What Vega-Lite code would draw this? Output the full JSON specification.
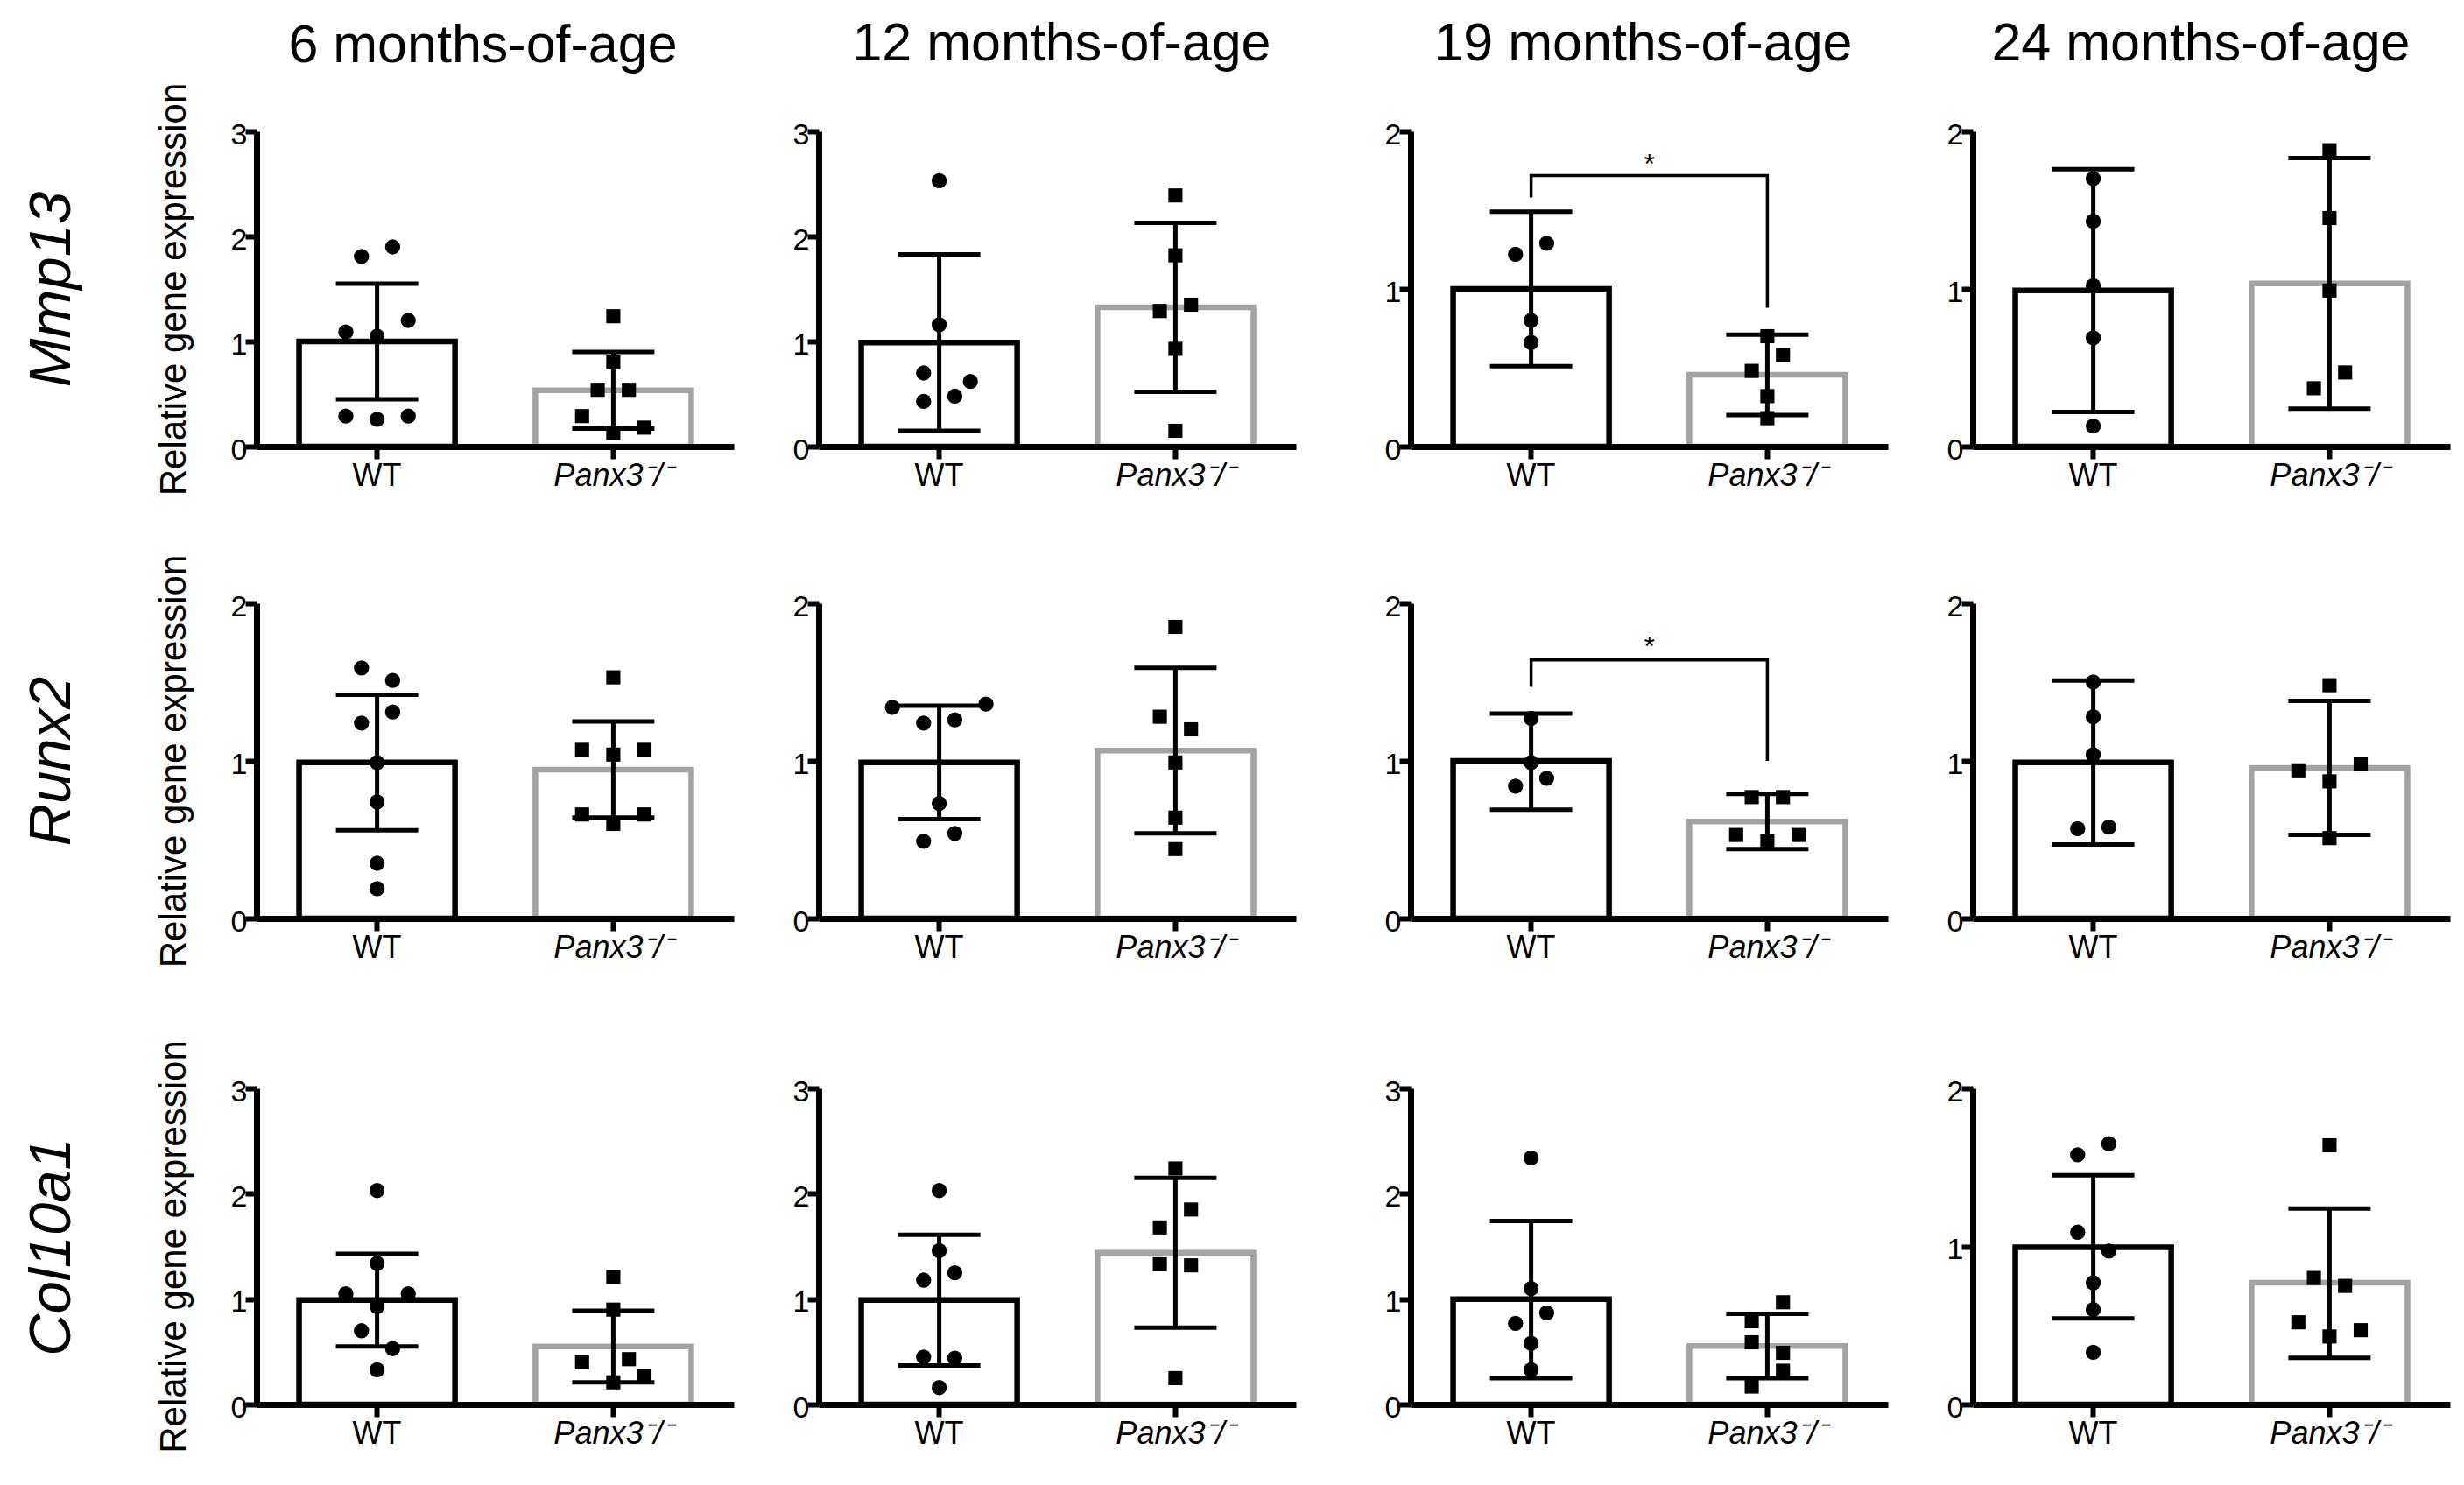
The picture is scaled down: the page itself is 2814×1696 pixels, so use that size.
{
"$schema":"https://vega.github.io/schema/vega-lite/v6.json",
"background":"white",
"padding":{"left":25,"top":20,"right":10,"bottom":10},
"datasets":{
"points":[
{"panel":"Mmp13 6","genotype":"WT","value":1.81,"slot":-1},{"panel":"Mmp13 6","genotype":"WT","value":1.90,"slot":1},{"panel":"Mmp13 6","genotype":"WT","value":1.20,"slot":2},{"panel":"Mmp13 6","genotype":"WT","value":1.09,"slot":-2},{"panel":"Mmp13 6","genotype":"WT","value":1.05,"slot":0},{"panel":"Mmp13 6","genotype":"WT","value":0.29,"slot":-2},{"panel":"Mmp13 6","genotype":"WT","value":0.26,"slot":0},{"panel":"Mmp13 6","genotype":"WT","value":0.29,"slot":2},
{"panel":"Mmp13 6","genotype":"Panx3-/-","value":1.24,"slot":0},{"panel":"Mmp13 6","genotype":"Panx3-/-","value":0.80,"slot":0},{"panel":"Mmp13 6","genotype":"Panx3-/-","value":0.54,"slot":-1},{"panel":"Mmp13 6","genotype":"Panx3-/-","value":0.54,"slot":1},{"panel":"Mmp13 6","genotype":"Panx3-/-","value":0.29,"slot":-2},{"panel":"Mmp13 6","genotype":"Panx3-/-","value":0.13,"slot":0},{"panel":"Mmp13 6","genotype":"Panx3-/-","value":0.18,"slot":2},
{"panel":"Mmp13 12","genotype":"WT","value":2.53,"slot":0},{"panel":"Mmp13 12","genotype":"WT","value":1.16,"slot":0},{"panel":"Mmp13 12","genotype":"WT","value":0.70,"slot":-1},{"panel":"Mmp13 12","genotype":"WT","value":0.62,"slot":2},{"panel":"Mmp13 12","genotype":"WT","value":0.43,"slot":-1},{"panel":"Mmp13 12","genotype":"WT","value":0.48,"slot":1},
{"panel":"Mmp13 12","genotype":"Panx3-/-","value":2.39,"slot":0},{"panel":"Mmp13 12","genotype":"Panx3-/-","value":1.82,"slot":0},{"panel":"Mmp13 12","genotype":"Panx3-/-","value":1.35,"slot":1},{"panel":"Mmp13 12","genotype":"Panx3-/-","value":1.29,"slot":-1},{"panel":"Mmp13 12","genotype":"Panx3-/-","value":0.93,"slot":0},{"panel":"Mmp13 12","genotype":"Panx3-/-","value":0.15,"slot":0},
{"panel":"Mmp13 19","genotype":"WT","value":1.29,"slot":1},{"panel":"Mmp13 19","genotype":"WT","value":1.22,"slot":-1},{"panel":"Mmp13 19","genotype":"WT","value":0.80,"slot":0},{"panel":"Mmp13 19","genotype":"WT","value":0.66,"slot":0},
{"panel":"Mmp13 19","genotype":"Panx3-/-","value":0.70,"slot":0},{"panel":"Mmp13 19","genotype":"Panx3-/-","value":0.58,"slot":1},{"panel":"Mmp13 19","genotype":"Panx3-/-","value":0.48,"slot":-1},{"panel":"Mmp13 19","genotype":"Panx3-/-","value":0.32,"slot":0},{"panel":"Mmp13 19","genotype":"Panx3-/-","value":0.18,"slot":0},
{"panel":"Mmp13 24","genotype":"WT","value":1.70,"slot":0},{"panel":"Mmp13 24","genotype":"WT","value":1.43,"slot":0},{"panel":"Mmp13 24","genotype":"WT","value":1.02,"slot":0},{"panel":"Mmp13 24","genotype":"WT","value":0.69,"slot":0},{"panel":"Mmp13 24","genotype":"WT","value":0.13,"slot":0},
{"panel":"Mmp13 24","genotype":"Panx3-/-","value":1.88,"slot":0},{"panel":"Mmp13 24","genotype":"Panx3-/-","value":1.45,"slot":0},{"panel":"Mmp13 24","genotype":"Panx3-/-","value":0.99,"slot":0},{"panel":"Mmp13 24","genotype":"Panx3-/-","value":0.47,"slot":1},{"panel":"Mmp13 24","genotype":"Panx3-/-","value":0.37,"slot":-1},
{"panel":"Runx2 6","genotype":"WT","value":1.59,"slot":-1},{"panel":"Runx2 6","genotype":"WT","value":1.51,"slot":1},{"panel":"Runx2 6","genotype":"WT","value":1.31,"slot":1},{"panel":"Runx2 6","genotype":"WT","value":1.24,"slot":-1},{"panel":"Runx2 6","genotype":"WT","value":0.99,"slot":0},{"panel":"Runx2 6","genotype":"WT","value":0.74,"slot":0},{"panel":"Runx2 6","genotype":"WT","value":0.35,"slot":0},{"panel":"Runx2 6","genotype":"WT","value":0.19,"slot":0},
{"panel":"Runx2 6","genotype":"Panx3-/-","value":1.53,"slot":0},{"panel":"Runx2 6","genotype":"Panx3-/-","value":1.07,"slot":-2},{"panel":"Runx2 6","genotype":"Panx3-/-","value":1.04,"slot":0},{"panel":"Runx2 6","genotype":"Panx3-/-","value":1.07,"slot":2},{"panel":"Runx2 6","genotype":"Panx3-/-","value":0.66,"slot":-2},{"panel":"Runx2 6","genotype":"Panx3-/-","value":0.66,"slot":2},{"panel":"Runx2 6","genotype":"Panx3-/-","value":0.60,"slot":0},
{"panel":"Runx2 12","genotype":"WT","value":1.34,"slot":-3},{"panel":"Runx2 12","genotype":"WT","value":1.36,"slot":3},{"panel":"Runx2 12","genotype":"WT","value":1.24,"slot":-1},{"panel":"Runx2 12","genotype":"WT","value":1.26,"slot":1},{"panel":"Runx2 12","genotype":"WT","value":0.73,"slot":0},{"panel":"Runx2 12","genotype":"WT","value":0.54,"slot":1},{"panel":"Runx2 12","genotype":"WT","value":0.49,"slot":-1},
{"panel":"Runx2 12","genotype":"Panx3-/-","value":1.85,"slot":0},{"panel":"Runx2 12","genotype":"Panx3-/-","value":1.28,"slot":-1},{"panel":"Runx2 12","genotype":"Panx3-/-","value":1.20,"slot":1},{"panel":"Runx2 12","genotype":"Panx3-/-","value":0.99,"slot":0},{"panel":"Runx2 12","genotype":"Panx3-/-","value":0.64,"slot":0},{"panel":"Runx2 12","genotype":"Panx3-/-","value":0.44,"slot":0},
{"panel":"Runx2 19","genotype":"WT","value":1.27,"slot":0},{"panel":"Runx2 19","genotype":"WT","value":0.99,"slot":0},{"panel":"Runx2 19","genotype":"WT","value":0.89,"slot":1},{"panel":"Runx2 19","genotype":"WT","value":0.84,"slot":-1},
{"panel":"Runx2 19","genotype":"Panx3-/-","value":0.77,"slot":-1},{"panel":"Runx2 19","genotype":"Panx3-/-","value":0.77,"slot":1},{"panel":"Runx2 19","genotype":"Panx3-/-","value":0.53,"slot":-2},{"panel":"Runx2 19","genotype":"Panx3-/-","value":0.53,"slot":2},{"panel":"Runx2 19","genotype":"Panx3-/-","value":0.49,"slot":0},
{"panel":"Runx2 24","genotype":"WT","value":1.50,"slot":0},{"panel":"Runx2 24","genotype":"WT","value":1.28,"slot":0},{"panel":"Runx2 24","genotype":"WT","value":1.04,"slot":0},{"panel":"Runx2 24","genotype":"WT","value":0.57,"slot":-1},{"panel":"Runx2 24","genotype":"WT","value":0.58,"slot":1},
{"panel":"Runx2 24","genotype":"Panx3-/-","value":1.48,"slot":0},{"panel":"Runx2 24","genotype":"Panx3-/-","value":0.94,"slot":-2},{"panel":"Runx2 24","genotype":"Panx3-/-","value":0.98,"slot":2},{"panel":"Runx2 24","genotype":"Panx3-/-","value":0.87,"slot":0},{"panel":"Runx2 24","genotype":"Panx3-/-","value":0.51,"slot":0},
{"panel":"Col10a1 6","genotype":"WT","value":2.03,"slot":0},{"panel":"Col10a1 6","genotype":"WT","value":1.34,"slot":0},{"panel":"Col10a1 6","genotype":"WT","value":1.05,"slot":-2},{"panel":"Col10a1 6","genotype":"WT","value":1.05,"slot":2},{"panel":"Col10a1 6","genotype":"WT","value":0.93,"slot":0},{"panel":"Col10a1 6","genotype":"WT","value":0.70,"slot":-1},{"panel":"Col10a1 6","genotype":"WT","value":0.53,"slot":1},{"panel":"Col10a1 6","genotype":"WT","value":0.33,"slot":0},
{"panel":"Col10a1 6","genotype":"Panx3-/-","value":1.21,"slot":0},{"panel":"Col10a1 6","genotype":"Panx3-/-","value":0.90,"slot":0},{"panel":"Col10a1 6","genotype":"Panx3-/-","value":0.40,"slot":-2},{"panel":"Col10a1 6","genotype":"Panx3-/-","value":0.43,"slot":1},{"panel":"Col10a1 6","genotype":"Panx3-/-","value":0.27,"slot":2},{"panel":"Col10a1 6","genotype":"Panx3-/-","value":0.21,"slot":0},
{"panel":"Col10a1 12","genotype":"WT","value":2.03,"slot":0},{"panel":"Col10a1 12","genotype":"WT","value":1.46,"slot":0},{"panel":"Col10a1 12","genotype":"WT","value":1.25,"slot":1},{"panel":"Col10a1 12","genotype":"WT","value":1.18,"slot":-1},{"panel":"Col10a1 12","genotype":"WT","value":0.45,"slot":-1},{"panel":"Col10a1 12","genotype":"WT","value":0.44,"slot":1},{"panel":"Col10a1 12","genotype":"WT","value":0.16,"slot":0},
{"panel":"Col10a1 12","genotype":"Panx3-/-","value":2.24,"slot":0},{"panel":"Col10a1 12","genotype":"Panx3-/-","value":1.85,"slot":1},{"panel":"Col10a1 12","genotype":"Panx3-/-","value":1.68,"slot":-1},{"panel":"Col10a1 12","genotype":"Panx3-/-","value":1.33,"slot":-1},{"panel":"Col10a1 12","genotype":"Panx3-/-","value":1.32,"slot":1},{"panel":"Col10a1 12","genotype":"Panx3-/-","value":0.25,"slot":0},
{"panel":"Col10a1 19","genotype":"WT","value":2.34,"slot":0},{"panel":"Col10a1 19","genotype":"WT","value":1.10,"slot":0},{"panel":"Col10a1 19","genotype":"WT","value":0.87,"slot":1},{"panel":"Col10a1 19","genotype":"WT","value":0.77,"slot":-1},{"panel":"Col10a1 19","genotype":"WT","value":0.58,"slot":0},{"panel":"Col10a1 19","genotype":"WT","value":0.33,"slot":0},
{"panel":"Col10a1 19","genotype":"Panx3-/-","value":0.97,"slot":1},{"panel":"Col10a1 19","genotype":"Panx3-/-","value":0.79,"slot":-1},{"panel":"Col10a1 19","genotype":"Panx3-/-","value":0.59,"slot":-1},{"panel":"Col10a1 19","genotype":"Panx3-/-","value":0.49,"slot":1},{"panel":"Col10a1 19","genotype":"Panx3-/-","value":0.32,"slot":1},{"panel":"Col10a1 19","genotype":"Panx3-/-","value":0.17,"slot":-1},
{"panel":"Col10a1 24","genotype":"WT","value":1.65,"slot":1},{"panel":"Col10a1 24","genotype":"WT","value":1.58,"slot":-1},{"panel":"Col10a1 24","genotype":"WT","value":1.09,"slot":-1},{"panel":"Col10a1 24","genotype":"WT","value":0.97,"slot":1},{"panel":"Col10a1 24","genotype":"WT","value":0.77,"slot":0},{"panel":"Col10a1 24","genotype":"WT","value":0.60,"slot":0},{"panel":"Col10a1 24","genotype":"WT","value":0.33,"slot":0},
{"panel":"Col10a1 24","genotype":"Panx3-/-","value":1.64,"slot":0},{"panel":"Col10a1 24","genotype":"Panx3-/-","value":0.80,"slot":-1},{"panel":"Col10a1 24","genotype":"Panx3-/-","value":0.75,"slot":1},{"panel":"Col10a1 24","genotype":"Panx3-/-","value":0.52,"slot":-2},{"panel":"Col10a1 24","genotype":"Panx3-/-","value":0.47,"slot":2},{"panel":"Col10a1 24","genotype":"Panx3-/-","value":0.43,"slot":0}
],
"summary":[
{"panel":"Mmp13 6","genotype":"WT","mean":1.0,"lo":0.45,"hi":1.55},{"panel":"Mmp13 6","genotype":"Panx3-/-","mean":0.535,"lo":0.17,"hi":0.90},
{"panel":"Mmp13 12","genotype":"WT","mean":0.99,"lo":0.15,"hi":1.83},{"panel":"Mmp13 12","genotype":"Panx3-/-","mean":1.325,"lo":0.52,"hi":2.13},
{"panel":"Mmp13 19","genotype":"WT","mean":1.0,"lo":0.51,"hi":1.49},{"panel":"Mmp13 19","genotype":"Panx3-/-","mean":0.455,"lo":0.20,"hi":0.71},
{"panel":"Mmp13 24","genotype":"WT","mean":0.99,"lo":0.22,"hi":1.76},{"panel":"Mmp13 24","genotype":"Panx3-/-","mean":1.035,"lo":0.24,"hi":1.83},
{"panel":"Runx2 6","genotype":"WT","mean":0.99,"lo":0.56,"hi":1.42},{"panel":"Runx2 6","genotype":"Panx3-/-","mean":0.945,"lo":0.64,"hi":1.25},
{"panel":"Runx2 12","genotype":"WT","mean":0.99,"lo":0.63,"hi":1.35},{"panel":"Runx2 12","genotype":"Panx3-/-","mean":1.065,"lo":0.54,"hi":1.59},
{"panel":"Runx2 19","genotype":"WT","mean":1.0,"lo":0.69,"hi":1.30},{"panel":"Runx2 19","genotype":"Panx3-/-","mean":0.615,"lo":0.44,"hi":0.79},
{"panel":"Runx2 24","genotype":"WT","mean":0.99,"lo":0.47,"hi":1.51},{"panel":"Runx2 24","genotype":"Panx3-/-","mean":0.955,"lo":0.53,"hi":1.38},
{"panel":"Col10a1 6","genotype":"WT","mean":0.99,"lo":0.55,"hi":1.43},{"panel":"Col10a1 6","genotype":"Panx3-/-","mean":0.55,"lo":0.21,"hi":0.89},
{"panel":"Col10a1 12","genotype":"WT","mean":0.99,"lo":0.37,"hi":1.61},{"panel":"Col10a1 12","genotype":"Panx3-/-","mean":1.44,"lo":0.73,"hi":2.15},
{"panel":"Col10a1 19","genotype":"WT","mean":1.0,"lo":0.25,"hi":1.74},{"panel":"Col10a1 19","genotype":"Panx3-/-","mean":0.555,"lo":0.25,"hi":0.86},
{"panel":"Col10a1 24","genotype":"WT","mean":0.995,"lo":0.545,"hi":1.45},{"panel":"Col10a1 24","genotype":"Panx3-/-","mean":0.77,"lo":0.295,"hi":1.24}
],
"bracket":[
{"panel":"Mmp13 19","genotype":"WT","value":1.58,"k":1},{"panel":"Mmp13 19","genotype":"WT","value":1.72,"k":2},{"panel":"Mmp13 19","genotype":"Panx3-/-","value":1.72,"k":3},{"panel":"Mmp13 19","genotype":"Panx3-/-","value":0.88,"k":4},
{"panel":"Runx2 19","genotype":"WT","value":1.47,"k":1},{"panel":"Runx2 19","genotype":"WT","value":1.64,"k":2},{"panel":"Runx2 19","genotype":"Panx3-/-","value":1.64,"k":3},{"panel":"Runx2 19","genotype":"Panx3-/-","value":1.0,"k":4}
],
"stars":[
{"panel":"Mmp13 19","genotype":"WT","value":1.79,"label":"*"},
{"panel":"Runx2 19","genotype":"WT","value":1.72,"label":"*"}
]
},
"config":{
"font":"Liberation Sans",
"view":{"stroke":null},
"axis":{"grid":false,"labelFont":"Liberation Sans","titleFont":"Liberation Sans","titleFontWeight":"normal","titleColor":"#000000","labelColor":"#000000"},
"title":{"fontSize":61,"fontWeight":"normal","color":"#000000","font":"Liberation Sans","anchor":"middle","frame":"group"}
},
"spacing":67,
"resolve":{"scale":{"x":"independent","y":"independent"}},
"vconcat":[
{"hconcat":[
{"width":545,"height":360,"title":{"text":"6 months-of-age","offset":10,"dx":-14},"resolve":{"axis":{"x":"independent","y":"independent"},"scale":{"xOffset":"independent"}},"layer":[
{"data":{"name":"summary"},"transform":[{"filter":"datum.panel == 'Mmp13 6'"}],"mark":{"type":"bar","fill":"white","strokeWidth":6.5},"encoding":{"x":{"field":"genotype","type":"nominal","scale":{"domain":["WT","Panx3-/-"],"paddingInner":0.34,"paddingOuter":0.18},"axis":{"title":null,"domain":true,"domainColor":"#000000","domainWidth":7,"ticks":true,"tickColor":"#000000","tickWidth":6,"tickSize":14,"labelFontSize":36,"labelColor":"#000000","labelPadding":2,"labelAngle":0,"zindex":1,"labelExpr":"datum.value == 'WT' ? 'WT' : 'Panx3⁻/⁻'","labelFontStyle":{"condition":{"test":"datum.value != 'WT'","value":"italic"},"value":"normal"}}},"y":{"field":"mean","type":"quantitative","scale":{"domain":[0,3],"nice":false},"axis":{"values":[0,1,2,3],"tickCount":10,"labelOverlap":false,"labelExpr":"'' + datum.value","title":"Relative gene expression","titleFontSize":42,"titlePadding":43,"domain":true,"domainColor":"#000000","domainWidth":7,"ticks":true,"tickColor":"#000000","tickWidth":6,"tickSize":13,"labelFontSize":34,"labelColor":"#000000","labelPadding":-2,"labelOffset":4,"zindex":1}},"stroke":{"field":"genotype","type":"nominal","scale":{"domain":["WT","Panx3-/-"],"range":["#000000","#a3a3a6"]},"legend":null}}},
{"data":{"name":"summary"},"transform":[{"filter":"datum.panel == 'Mmp13 6'"}],"mark":{"type":"rule","color":"#000000","strokeWidth":5},"encoding":{"x":{"field":"genotype","type":"nominal","axis":null},"y":{"field":"lo","type":"quantitative","axis":null},"y2":{"field":"hi"}}},
{"data":{"name":"summary"},"transform":[{"filter":"datum.panel == 'Mmp13 6'"}],"mark":{"type":"tick","color":"#000000","size":94,"thickness":5,"opacity":1},"encoding":{"x":{"field":"genotype","type":"nominal","axis":null},"y":{"field":"hi","type":"quantitative","axis":null}}},
{"data":{"name":"summary"},"transform":[{"filter":"datum.panel == 'Mmp13 6'"}],"mark":{"type":"tick","color":"#000000","size":94,"thickness":5,"opacity":1},"encoding":{"x":{"field":"genotype","type":"nominal","axis":null},"y":{"field":"lo","type":"quantitative","axis":null}}},
{"data":{"name":"points"},"transform":[{"filter":"datum.panel == 'Mmp13 6'"}],"mark":{"type":"point","filled":true,"color":"#000000","opacity":1},"encoding":{"x":{"field":"genotype","type":"nominal","axis":null},"xOffset":{"field":"slot","type":"ordinal","scale":{"domain":[-4,-3,-2,-1,0,1,2,3,4],"paddingInner":0,"paddingOuter":3.8}},"y":{"field":"value","type":"quantitative","axis":{"orient":"left","title":"Mmp13","labels":false,"ticks":false,"domain":false,"titleFontSize":67,"titleFontStyle":"italic","titlePadding":200}},"shape":{"field":"genotype","type":"nominal","scale":{"domain":["WT","Panx3-/-"],"range":["circle","square"]},"legend":null},"size":{"field":"genotype","type":"nominal","scale":{"domain":["WT","Panx3-/-"],"range":[300,260]},"legend":null}}}
]},
{"width":579,"height":360,"title":{"text":"12 months-of-age","offset":55,"dx":-12},"resolve":{"axis":{"x":"independent","y":"independent"},"scale":{"xOffset":"independent"}},"layer":[
{"data":{"name":"summary"},"transform":[{"filter":"datum.panel == 'Mmp13 12'"}],"mark":{"type":"bar","fill":"white","strokeWidth":6.5},"encoding":{"x":{"field":"genotype","type":"nominal","scale":{"domain":["WT","Panx3-/-"],"paddingInner":0.34,"paddingOuter":0.18,"range":[0,545]},"axis":{"title":null,"domain":true,"domainColor":"#000000","domainWidth":7,"ticks":true,"tickColor":"#000000","tickWidth":6,"tickSize":14,"labelFontSize":36,"labelColor":"#000000","labelPadding":2,"labelAngle":0,"zindex":1,"labelExpr":"datum.value == 'WT' ? 'WT' : 'Panx3⁻/⁻'","labelFontStyle":{"condition":{"test":"datum.value != 'WT'","value":"italic"},"value":"normal"}}},"y":{"field":"mean","type":"quantitative","scale":{"domain":[0,3],"nice":false},"axis":{"values":[0,1,2,3],"tickCount":10,"labelOverlap":false,"labelExpr":"'' + datum.value","title":null,"domain":true,"domainColor":"#000000","domainWidth":7,"ticks":true,"tickColor":"#000000","tickWidth":6,"tickSize":13,"labelFontSize":34,"labelColor":"#000000","labelPadding":-2,"labelOffset":4,"zindex":1}},"stroke":{"field":"genotype","type":"nominal","scale":{"domain":["WT","Panx3-/-"],"range":["#000000","#a3a3a6"]},"legend":null}}},
{"data":{"name":"summary"},"transform":[{"filter":"datum.panel == 'Mmp13 12'"}],"mark":{"type":"rule","color":"#000000","strokeWidth":5},"encoding":{"x":{"field":"genotype","type":"nominal","axis":null},"y":{"field":"lo","type":"quantitative","axis":null},"y2":{"field":"hi"}}},
{"data":{"name":"summary"},"transform":[{"filter":"datum.panel == 'Mmp13 12'"}],"mark":{"type":"tick","color":"#000000","size":94,"thickness":5,"opacity":1},"encoding":{"x":{"field":"genotype","type":"nominal","axis":null},"y":{"field":"hi","type":"quantitative","axis":null}}},
{"data":{"name":"summary"},"transform":[{"filter":"datum.panel == 'Mmp13 12'"}],"mark":{"type":"tick","color":"#000000","size":94,"thickness":5,"opacity":1},"encoding":{"x":{"field":"genotype","type":"nominal","axis":null},"y":{"field":"lo","type":"quantitative","axis":null}}},
{"data":{"name":"points"},"transform":[{"filter":"datum.panel == 'Mmp13 12'"}],"mark":{"type":"point","filled":true,"color":"#000000","opacity":1},"encoding":{"x":{"field":"genotype","type":"nominal","axis":null},"xOffset":{"field":"slot","type":"ordinal","scale":{"domain":[-4,-3,-2,-1,0,1,2,3,4],"paddingInner":0,"paddingOuter":3.8}},"y":{"field":"value","type":"quantitative","axis":null},"shape":{"field":"genotype","type":"nominal","scale":{"domain":["WT","Panx3-/-"],"range":["circle","square"]},"legend":null},"size":{"field":"genotype","type":"nominal","scale":{"domain":["WT","Panx3-/-"],"range":[300,260]},"legend":null}}}
]},
{"width":545,"height":360,"title":{"text":"19 months-of-age","offset":55,"dx":-7},"resolve":{"axis":{"x":"independent","y":"independent"},"scale":{"xOffset":"independent"}},"layer":[
{"data":{"name":"summary"},"transform":[{"filter":"datum.panel == 'Mmp13 19'"}],"mark":{"type":"bar","fill":"white","strokeWidth":6.5},"encoding":{"x":{"field":"genotype","type":"nominal","scale":{"domain":["WT","Panx3-/-"],"paddingInner":0.34,"paddingOuter":0.18},"axis":{"title":null,"domain":true,"domainColor":"#000000","domainWidth":7,"ticks":true,"tickColor":"#000000","tickWidth":6,"tickSize":14,"labelFontSize":36,"labelColor":"#000000","labelPadding":2,"labelAngle":0,"zindex":1,"labelExpr":"datum.value == 'WT' ? 'WT' : 'Panx3⁻/⁻'","labelFontStyle":{"condition":{"test":"datum.value != 'WT'","value":"italic"},"value":"normal"}}},"y":{"field":"mean","type":"quantitative","scale":{"domain":[0,2],"nice":false},"axis":{"values":[0,1,2],"tickCount":10,"labelOverlap":false,"labelExpr":"'' + datum.value","title":null,"domain":true,"domainColor":"#000000","domainWidth":7,"ticks":true,"tickColor":"#000000","tickWidth":6,"tickSize":13,"labelFontSize":34,"labelColor":"#000000","labelPadding":-2,"labelOffset":4,"zindex":1}},"stroke":{"field":"genotype","type":"nominal","scale":{"domain":["WT","Panx3-/-"],"range":["#000000","#a3a3a6"]},"legend":null}}},
{"data":{"name":"summary"},"transform":[{"filter":"datum.panel == 'Mmp13 19'"}],"mark":{"type":"rule","color":"#000000","strokeWidth":5},"encoding":{"x":{"field":"genotype","type":"nominal","axis":null},"y":{"field":"lo","type":"quantitative","axis":null},"y2":{"field":"hi"}}},
{"data":{"name":"summary"},"transform":[{"filter":"datum.panel == 'Mmp13 19'"}],"mark":{"type":"tick","color":"#000000","size":94,"thickness":5,"opacity":1},"encoding":{"x":{"field":"genotype","type":"nominal","axis":null},"y":{"field":"hi","type":"quantitative","axis":null}}},
{"data":{"name":"summary"},"transform":[{"filter":"datum.panel == 'Mmp13 19'"}],"mark":{"type":"tick","color":"#000000","size":94,"thickness":5,"opacity":1},"encoding":{"x":{"field":"genotype","type":"nominal","axis":null},"y":{"field":"lo","type":"quantitative","axis":null}}},
{"data":{"name":"points"},"transform":[{"filter":"datum.panel == 'Mmp13 19'"}],"mark":{"type":"point","filled":true,"color":"#000000","opacity":1},"encoding":{"x":{"field":"genotype","type":"nominal","axis":null},"xOffset":{"field":"slot","type":"ordinal","scale":{"domain":[-4,-3,-2,-1,0,1,2,3,4],"paddingInner":0,"paddingOuter":3.8}},"y":{"field":"value","type":"quantitative","axis":null},"shape":{"field":"genotype","type":"nominal","scale":{"domain":["WT","Panx3-/-"],"range":["circle","square"]},"legend":null},"size":{"field":"genotype","type":"nominal","scale":{"domain":["WT","Panx3-/-"],"range":[300,260]},"legend":null}}},
{"data":{"name":"bracket"},"transform":[{"filter":"datum.panel == 'Mmp13 19'"}],"mark":{"type":"line","color":"#000000","strokeWidth":3.5,"strokeCap":"butt","strokeJoin":"miter"},"encoding":{"x":{"field":"genotype","type":"nominal","axis":null},"y":{"field":"value","type":"quantitative","axis":null},"order":{"field":"k","type":"quantitative"}}},
{"data":{"name":"stars"},"transform":[{"filter":"datum.panel == 'Mmp13 19'"}],"mark":{"type":"text","fontSize":32,"dx":135,"baseline":"middle","align":"center","color":"#000000"},"encoding":{"x":{"field":"genotype","type":"nominal","axis":null},"y":{"field":"value","type":"quantitative","axis":null},"text":{"field":"label"}}}
]},
{"width":545,"height":360,"title":{"text":"24 months-of-age","offset":55,"dx":-12},"resolve":{"axis":{"x":"independent","y":"independent"},"scale":{"xOffset":"independent"}},"layer":[
{"data":{"name":"summary"},"transform":[{"filter":"datum.panel == 'Mmp13 24'"}],"mark":{"type":"bar","fill":"white","strokeWidth":6.5},"encoding":{"x":{"field":"genotype","type":"nominal","scale":{"domain":["WT","Panx3-/-"],"paddingInner":0.34,"paddingOuter":0.18},"axis":{"title":null,"domain":true,"domainColor":"#000000","domainWidth":7,"ticks":true,"tickColor":"#000000","tickWidth":6,"tickSize":14,"labelFontSize":36,"labelColor":"#000000","labelPadding":2,"labelAngle":0,"zindex":1,"labelExpr":"datum.value == 'WT' ? 'WT' : 'Panx3⁻/⁻'","labelFontStyle":{"condition":{"test":"datum.value != 'WT'","value":"italic"},"value":"normal"}}},"y":{"field":"mean","type":"quantitative","scale":{"domain":[0,2],"nice":false},"axis":{"values":[0,1,2],"tickCount":10,"labelOverlap":false,"labelExpr":"'' + datum.value","title":null,"domain":true,"domainColor":"#000000","domainWidth":7,"ticks":true,"tickColor":"#000000","tickWidth":6,"tickSize":13,"labelFontSize":34,"labelColor":"#000000","labelPadding":-2,"labelOffset":4,"zindex":1}},"stroke":{"field":"genotype","type":"nominal","scale":{"domain":["WT","Panx3-/-"],"range":["#000000","#a3a3a6"]},"legend":null}}},
{"data":{"name":"summary"},"transform":[{"filter":"datum.panel == 'Mmp13 24'"}],"mark":{"type":"rule","color":"#000000","strokeWidth":5},"encoding":{"x":{"field":"genotype","type":"nominal","axis":null},"y":{"field":"lo","type":"quantitative","axis":null},"y2":{"field":"hi"}}},
{"data":{"name":"summary"},"transform":[{"filter":"datum.panel == 'Mmp13 24'"}],"mark":{"type":"tick","color":"#000000","size":94,"thickness":5,"opacity":1},"encoding":{"x":{"field":"genotype","type":"nominal","axis":null},"y":{"field":"hi","type":"quantitative","axis":null}}},
{"data":{"name":"summary"},"transform":[{"filter":"datum.panel == 'Mmp13 24'"}],"mark":{"type":"tick","color":"#000000","size":94,"thickness":5,"opacity":1},"encoding":{"x":{"field":"genotype","type":"nominal","axis":null},"y":{"field":"lo","type":"quantitative","axis":null}}},
{"data":{"name":"points"},"transform":[{"filter":"datum.panel == 'Mmp13 24'"}],"mark":{"type":"point","filled":true,"color":"#000000","opacity":1},"encoding":{"x":{"field":"genotype","type":"nominal","axis":null},"xOffset":{"field":"slot","type":"ordinal","scale":{"domain":[-4,-3,-2,-1,0,1,2,3,4],"paddingInner":0,"paddingOuter":3.8}},"y":{"field":"value","type":"quantitative","axis":null},"shape":{"field":"genotype","type":"nominal","scale":{"domain":["WT","Panx3-/-"],"range":["circle","square"]},"legend":null},"size":{"field":"genotype","type":"nominal","scale":{"domain":["WT","Panx3-/-"],"range":[300,260]},"legend":null}}}
]}
],"spacing":97,"bounds":"flush","resolve":{"scale":{"x":"independent","y":"independent"}}},
{"vconcat":[
{"hconcat":[
{"width":545,"height":360,"resolve":{"axis":{"x":"independent","y":"independent"},"scale":{"xOffset":"independent"}},"layer":[
{"data":{"name":"summary"},"transform":[{"filter":"datum.panel == 'Runx2 6'"}],"mark":{"type":"bar","fill":"white","strokeWidth":6.5},"encoding":{"x":{"field":"genotype","type":"nominal","scale":{"domain":["WT","Panx3-/-"],"paddingInner":0.34,"paddingOuter":0.18},"axis":{"title":null,"domain":true,"domainColor":"#000000","domainWidth":7,"ticks":true,"tickColor":"#000000","tickWidth":6,"tickSize":14,"labelFontSize":36,"labelColor":"#000000","labelPadding":2,"labelAngle":0,"zindex":1,"labelExpr":"datum.value == 'WT' ? 'WT' : 'Panx3⁻/⁻'","labelFontStyle":{"condition":{"test":"datum.value != 'WT'","value":"italic"},"value":"normal"}}},"y":{"field":"mean","type":"quantitative","scale":{"domain":[0,2],"nice":false},"axis":{"values":[0,1,2],"tickCount":10,"labelOverlap":false,"labelExpr":"'' + datum.value","title":"Relative gene expression","titleFontSize":42,"titlePadding":43,"domain":true,"domainColor":"#000000","domainWidth":7,"ticks":true,"tickColor":"#000000","tickWidth":6,"tickSize":13,"labelFontSize":34,"labelColor":"#000000","labelPadding":-2,"labelOffset":4,"zindex":1}},"stroke":{"field":"genotype","type":"nominal","scale":{"domain":["WT","Panx3-/-"],"range":["#000000","#a3a3a6"]},"legend":null}}},
{"data":{"name":"summary"},"transform":[{"filter":"datum.panel == 'Runx2 6'"}],"mark":{"type":"rule","color":"#000000","strokeWidth":5},"encoding":{"x":{"field":"genotype","type":"nominal","axis":null},"y":{"field":"lo","type":"quantitative","axis":null},"y2":{"field":"hi"}}},
{"data":{"name":"summary"},"transform":[{"filter":"datum.panel == 'Runx2 6'"}],"mark":{"type":"tick","color":"#000000","size":94,"thickness":5,"opacity":1},"encoding":{"x":{"field":"genotype","type":"nominal","axis":null},"y":{"field":"hi","type":"quantitative","axis":null}}},
{"data":{"name":"summary"},"transform":[{"filter":"datum.panel == 'Runx2 6'"}],"mark":{"type":"tick","color":"#000000","size":94,"thickness":5,"opacity":1},"encoding":{"x":{"field":"genotype","type":"nominal","axis":null},"y":{"field":"lo","type":"quantitative","axis":null}}},
{"data":{"name":"points"},"transform":[{"filter":"datum.panel == 'Runx2 6'"}],"mark":{"type":"point","filled":true,"color":"#000000","opacity":1},"encoding":{"x":{"field":"genotype","type":"nominal","axis":null},"xOffset":{"field":"slot","type":"ordinal","scale":{"domain":[-4,-3,-2,-1,0,1,2,3,4],"paddingInner":0,"paddingOuter":3.8}},"y":{"field":"value","type":"quantitative","axis":{"orient":"left","title":"Runx2","labels":false,"ticks":false,"domain":false,"titleFontSize":67,"titleFontStyle":"italic","titlePadding":200}},"shape":{"field":"genotype","type":"nominal","scale":{"domain":["WT","Panx3-/-"],"range":["circle","square"]},"legend":null},"size":{"field":"genotype","type":"nominal","scale":{"domain":["WT","Panx3-/-"],"range":[300,260]},"legend":null}}}
]},
{"width":579,"height":360,"resolve":{"axis":{"x":"independent","y":"independent"},"scale":{"xOffset":"independent"}},"layer":[
{"data":{"name":"summary"},"transform":[{"filter":"datum.panel == 'Runx2 12'"}],"mark":{"type":"bar","fill":"white","strokeWidth":6.5},"encoding":{"x":{"field":"genotype","type":"nominal","scale":{"domain":["WT","Panx3-/-"],"paddingInner":0.34,"paddingOuter":0.18,"range":[0,545]},"axis":{"title":null,"domain":true,"domainColor":"#000000","domainWidth":7,"ticks":true,"tickColor":"#000000","tickWidth":6,"tickSize":14,"labelFontSize":36,"labelColor":"#000000","labelPadding":2,"labelAngle":0,"zindex":1,"labelExpr":"datum.value == 'WT' ? 'WT' : 'Panx3⁻/⁻'","labelFontStyle":{"condition":{"test":"datum.value != 'WT'","value":"italic"},"value":"normal"}}},"y":{"field":"mean","type":"quantitative","scale":{"domain":[0,2],"nice":false},"axis":{"values":[0,1,2],"tickCount":10,"labelOverlap":false,"labelExpr":"'' + datum.value","title":null,"domain":true,"domainColor":"#000000","domainWidth":7,"ticks":true,"tickColor":"#000000","tickWidth":6,"tickSize":13,"labelFontSize":34,"labelColor":"#000000","labelPadding":-2,"labelOffset":4,"zindex":1}},"stroke":{"field":"genotype","type":"nominal","scale":{"domain":["WT","Panx3-/-"],"range":["#000000","#a3a3a6"]},"legend":null}}},
{"data":{"name":"summary"},"transform":[{"filter":"datum.panel == 'Runx2 12'"}],"mark":{"type":"rule","color":"#000000","strokeWidth":5},"encoding":{"x":{"field":"genotype","type":"nominal","axis":null},"y":{"field":"lo","type":"quantitative","axis":null},"y2":{"field":"hi"}}},
{"data":{"name":"summary"},"transform":[{"filter":"datum.panel == 'Runx2 12'"}],"mark":{"type":"tick","color":"#000000","size":94,"thickness":5,"opacity":1},"encoding":{"x":{"field":"genotype","type":"nominal","axis":null},"y":{"field":"hi","type":"quantitative","axis":null}}},
{"data":{"name":"summary"},"transform":[{"filter":"datum.panel == 'Runx2 12'"}],"mark":{"type":"tick","color":"#000000","size":94,"thickness":5,"opacity":1},"encoding":{"x":{"field":"genotype","type":"nominal","axis":null},"y":{"field":"lo","type":"quantitative","axis":null}}},
{"data":{"name":"points"},"transform":[{"filter":"datum.panel == 'Runx2 12'"}],"mark":{"type":"point","filled":true,"color":"#000000","opacity":1},"encoding":{"x":{"field":"genotype","type":"nominal","axis":null},"xOffset":{"field":"slot","type":"ordinal","scale":{"domain":[-4,-3,-2,-1,0,1,2,3,4],"paddingInner":0,"paddingOuter":3.8}},"y":{"field":"value","type":"quantitative","axis":null},"shape":{"field":"genotype","type":"nominal","scale":{"domain":["WT","Panx3-/-"],"range":["circle","square"]},"legend":null},"size":{"field":"genotype","type":"nominal","scale":{"domain":["WT","Panx3-/-"],"range":[300,260]},"legend":null}}}
]},
{"width":545,"height":360,"resolve":{"axis":{"x":"independent","y":"independent"},"scale":{"xOffset":"independent"}},"layer":[
{"data":{"name":"summary"},"transform":[{"filter":"datum.panel == 'Runx2 19'"}],"mark":{"type":"bar","fill":"white","strokeWidth":6.5},"encoding":{"x":{"field":"genotype","type":"nominal","scale":{"domain":["WT","Panx3-/-"],"paddingInner":0.34,"paddingOuter":0.18},"axis":{"title":null,"domain":true,"domainColor":"#000000","domainWidth":7,"ticks":true,"tickColor":"#000000","tickWidth":6,"tickSize":14,"labelFontSize":36,"labelColor":"#000000","labelPadding":2,"labelAngle":0,"zindex":1,"labelExpr":"datum.value == 'WT' ? 'WT' : 'Panx3⁻/⁻'","labelFontStyle":{"condition":{"test":"datum.value != 'WT'","value":"italic"},"value":"normal"}}},"y":{"field":"mean","type":"quantitative","scale":{"domain":[0,2],"nice":false},"axis":{"values":[0,1,2],"tickCount":10,"labelOverlap":false,"labelExpr":"'' + datum.value","title":null,"domain":true,"domainColor":"#000000","domainWidth":7,"ticks":true,"tickColor":"#000000","tickWidth":6,"tickSize":13,"labelFontSize":34,"labelColor":"#000000","labelPadding":-2,"labelOffset":4,"zindex":1}},"stroke":{"field":"genotype","type":"nominal","scale":{"domain":["WT","Panx3-/-"],"range":["#000000","#a3a3a6"]},"legend":null}}},
{"data":{"name":"summary"},"transform":[{"filter":"datum.panel == 'Runx2 19'"}],"mark":{"type":"rule","color":"#000000","strokeWidth":5},"encoding":{"x":{"field":"genotype","type":"nominal","axis":null},"y":{"field":"lo","type":"quantitative","axis":null},"y2":{"field":"hi"}}},
{"data":{"name":"summary"},"transform":[{"filter":"datum.panel == 'Runx2 19'"}],"mark":{"type":"tick","color":"#000000","size":94,"thickness":5,"opacity":1},"encoding":{"x":{"field":"genotype","type":"nominal","axis":null},"y":{"field":"hi","type":"quantitative","axis":null}}},
{"data":{"name":"summary"},"transform":[{"filter":"datum.panel == 'Runx2 19'"}],"mark":{"type":"tick","color":"#000000","size":94,"thickness":5,"opacity":1},"encoding":{"x":{"field":"genotype","type":"nominal","axis":null},"y":{"field":"lo","type":"quantitative","axis":null}}},
{"data":{"name":"points"},"transform":[{"filter":"datum.panel == 'Runx2 19'"}],"mark":{"type":"point","filled":true,"color":"#000000","opacity":1},"encoding":{"x":{"field":"genotype","type":"nominal","axis":null},"xOffset":{"field":"slot","type":"ordinal","scale":{"domain":[-4,-3,-2,-1,0,1,2,3,4],"paddingInner":0,"paddingOuter":3.8}},"y":{"field":"value","type":"quantitative","axis":null},"shape":{"field":"genotype","type":"nominal","scale":{"domain":["WT","Panx3-/-"],"range":["circle","square"]},"legend":null},"size":{"field":"genotype","type":"nominal","scale":{"domain":["WT","Panx3-/-"],"range":[300,260]},"legend":null}}},
{"data":{"name":"bracket"},"transform":[{"filter":"datum.panel == 'Runx2 19'"}],"mark":{"type":"line","color":"#000000","strokeWidth":3.5,"strokeCap":"butt","strokeJoin":"miter"},"encoding":{"x":{"field":"genotype","type":"nominal","axis":null},"y":{"field":"value","type":"quantitative","axis":null},"order":{"field":"k","type":"quantitative"}}},
{"data":{"name":"stars"},"transform":[{"filter":"datum.panel == 'Runx2 19'"}],"mark":{"type":"text","fontSize":32,"dx":135,"baseline":"middle","align":"center","color":"#000000"},"encoding":{"x":{"field":"genotype","type":"nominal","axis":null},"y":{"field":"value","type":"quantitative","axis":null},"text":{"field":"label"}}}
]},
{"width":545,"height":360,"resolve":{"axis":{"x":"independent","y":"independent"},"scale":{"xOffset":"independent"}},"layer":[
{"data":{"name":"summary"},"transform":[{"filter":"datum.panel == 'Runx2 24'"}],"mark":{"type":"bar","fill":"white","strokeWidth":6.5},"encoding":{"x":{"field":"genotype","type":"nominal","scale":{"domain":["WT","Panx3-/-"],"paddingInner":0.34,"paddingOuter":0.18},"axis":{"title":null,"domain":true,"domainColor":"#000000","domainWidth":7,"ticks":true,"tickColor":"#000000","tickWidth":6,"tickSize":14,"labelFontSize":36,"labelColor":"#000000","labelPadding":2,"labelAngle":0,"zindex":1,"labelExpr":"datum.value == 'WT' ? 'WT' : 'Panx3⁻/⁻'","labelFontStyle":{"condition":{"test":"datum.value != 'WT'","value":"italic"},"value":"normal"}}},"y":{"field":"mean","type":"quantitative","scale":{"domain":[0,2],"nice":false},"axis":{"values":[0,1,2],"tickCount":10,"labelOverlap":false,"labelExpr":"'' + datum.value","title":null,"domain":true,"domainColor":"#000000","domainWidth":7,"ticks":true,"tickColor":"#000000","tickWidth":6,"tickSize":13,"labelFontSize":34,"labelColor":"#000000","labelPadding":-2,"labelOffset":4,"zindex":1}},"stroke":{"field":"genotype","type":"nominal","scale":{"domain":["WT","Panx3-/-"],"range":["#000000","#a3a3a6"]},"legend":null}}},
{"data":{"name":"summary"},"transform":[{"filter":"datum.panel == 'Runx2 24'"}],"mark":{"type":"rule","color":"#000000","strokeWidth":5},"encoding":{"x":{"field":"genotype","type":"nominal","axis":null},"y":{"field":"lo","type":"quantitative","axis":null},"y2":{"field":"hi"}}},
{"data":{"name":"summary"},"transform":[{"filter":"datum.panel == 'Runx2 24'"}],"mark":{"type":"tick","color":"#000000","size":94,"thickness":5,"opacity":1},"encoding":{"x":{"field":"genotype","type":"nominal","axis":null},"y":{"field":"hi","type":"quantitative","axis":null}}},
{"data":{"name":"summary"},"transform":[{"filter":"datum.panel == 'Runx2 24'"}],"mark":{"type":"tick","color":"#000000","size":94,"thickness":5,"opacity":1},"encoding":{"x":{"field":"genotype","type":"nominal","axis":null},"y":{"field":"lo","type":"quantitative","axis":null}}},
{"data":{"name":"points"},"transform":[{"filter":"datum.panel == 'Runx2 24'"}],"mark":{"type":"point","filled":true,"color":"#000000","opacity":1},"encoding":{"x":{"field":"genotype","type":"nominal","axis":null},"xOffset":{"field":"slot","type":"ordinal","scale":{"domain":[-4,-3,-2,-1,0,1,2,3,4],"paddingInner":0,"paddingOuter":3.8}},"y":{"field":"value","type":"quantitative","axis":null},"shape":{"field":"genotype","type":"nominal","scale":{"domain":["WT","Panx3-/-"],"range":["circle","square"]},"legend":null},"size":{"field":"genotype","type":"nominal","scale":{"domain":["WT","Panx3-/-"],"range":[300,260]},"legend":null}}}
]}
],"spacing":97,"bounds":"flush","resolve":{"scale":{"x":"independent","y":"independent"}}},
{"hconcat":[
{"width":545,"height":361,"resolve":{"axis":{"x":"independent","y":"independent"},"scale":{"xOffset":"independent"}},"layer":[
{"data":{"name":"summary"},"transform":[{"filter":"datum.panel == 'Col10a1 6'"}],"mark":{"type":"bar","fill":"white","strokeWidth":6.5},"encoding":{"x":{"field":"genotype","type":"nominal","scale":{"domain":["WT","Panx3-/-"],"paddingInner":0.34,"paddingOuter":0.18},"axis":{"title":null,"domain":true,"domainColor":"#000000","domainWidth":7,"ticks":true,"tickColor":"#000000","tickWidth":6,"tickSize":14,"labelFontSize":36,"labelColor":"#000000","labelPadding":2,"labelAngle":0,"zindex":1,"labelExpr":"datum.value == 'WT' ? 'WT' : 'Panx3⁻/⁻'","labelFontStyle":{"condition":{"test":"datum.value != 'WT'","value":"italic"},"value":"normal"}}},"y":{"field":"mean","type":"quantitative","scale":{"domain":[0,3],"nice":false},"axis":{"values":[0,1,2,3],"tickCount":10,"labelOverlap":false,"labelExpr":"'' + datum.value","title":"Relative gene expression","titleFontSize":42,"titlePadding":43,"domain":true,"domainColor":"#000000","domainWidth":7,"ticks":true,"tickColor":"#000000","tickWidth":6,"tickSize":13,"labelFontSize":34,"labelColor":"#000000","labelPadding":-2,"labelOffset":4,"zindex":1}},"stroke":{"field":"genotype","type":"nominal","scale":{"domain":["WT","Panx3-/-"],"range":["#000000","#a3a3a6"]},"legend":null}}},
{"data":{"name":"summary"},"transform":[{"filter":"datum.panel == 'Col10a1 6'"}],"mark":{"type":"rule","color":"#000000","strokeWidth":5},"encoding":{"x":{"field":"genotype","type":"nominal","axis":null},"y":{"field":"lo","type":"quantitative","axis":null},"y2":{"field":"hi"}}},
{"data":{"name":"summary"},"transform":[{"filter":"datum.panel == 'Col10a1 6'"}],"mark":{"type":"tick","color":"#000000","size":94,"thickness":5,"opacity":1},"encoding":{"x":{"field":"genotype","type":"nominal","axis":null},"y":{"field":"hi","type":"quantitative","axis":null}}},
{"data":{"name":"summary"},"transform":[{"filter":"datum.panel == 'Col10a1 6'"}],"mark":{"type":"tick","color":"#000000","size":94,"thickness":5,"opacity":1},"encoding":{"x":{"field":"genotype","type":"nominal","axis":null},"y":{"field":"lo","type":"quantitative","axis":null}}},
{"data":{"name":"points"},"transform":[{"filter":"datum.panel == 'Col10a1 6'"}],"mark":{"type":"point","filled":true,"color":"#000000","opacity":1},"encoding":{"x":{"field":"genotype","type":"nominal","axis":null},"xOffset":{"field":"slot","type":"ordinal","scale":{"domain":[-4,-3,-2,-1,0,1,2,3,4],"paddingInner":0,"paddingOuter":3.8}},"y":{"field":"value","type":"quantitative","axis":{"orient":"left","title":"Col10a1","labels":false,"ticks":false,"domain":false,"titleFontSize":67,"titleFontStyle":"italic","titlePadding":200}},"shape":{"field":"genotype","type":"nominal","scale":{"domain":["WT","Panx3-/-"],"range":["circle","square"]},"legend":null},"size":{"field":"genotype","type":"nominal","scale":{"domain":["WT","Panx3-/-"],"range":[300,260]},"legend":null}}}
]},
{"width":579,"height":361,"resolve":{"axis":{"x":"independent","y":"independent"},"scale":{"xOffset":"independent"}},"layer":[
{"data":{"name":"summary"},"transform":[{"filter":"datum.panel == 'Col10a1 12'"}],"mark":{"type":"bar","fill":"white","strokeWidth":6.5},"encoding":{"x":{"field":"genotype","type":"nominal","scale":{"domain":["WT","Panx3-/-"],"paddingInner":0.34,"paddingOuter":0.18,"range":[0,545]},"axis":{"title":null,"domain":true,"domainColor":"#000000","domainWidth":7,"ticks":true,"tickColor":"#000000","tickWidth":6,"tickSize":14,"labelFontSize":36,"labelColor":"#000000","labelPadding":2,"labelAngle":0,"zindex":1,"labelExpr":"datum.value == 'WT' ? 'WT' : 'Panx3⁻/⁻'","labelFontStyle":{"condition":{"test":"datum.value != 'WT'","value":"italic"},"value":"normal"}}},"y":{"field":"mean","type":"quantitative","scale":{"domain":[0,3],"nice":false},"axis":{"values":[0,1,2,3],"tickCount":10,"labelOverlap":false,"labelExpr":"'' + datum.value","title":null,"domain":true,"domainColor":"#000000","domainWidth":7,"ticks":true,"tickColor":"#000000","tickWidth":6,"tickSize":13,"labelFontSize":34,"labelColor":"#000000","labelPadding":-2,"labelOffset":4,"zindex":1}},"stroke":{"field":"genotype","type":"nominal","scale":{"domain":["WT","Panx3-/-"],"range":["#000000","#a3a3a6"]},"legend":null}}},
{"data":{"name":"summary"},"transform":[{"filter":"datum.panel == 'Col10a1 12'"}],"mark":{"type":"rule","color":"#000000","strokeWidth":5},"encoding":{"x":{"field":"genotype","type":"nominal","axis":null},"y":{"field":"lo","type":"quantitative","axis":null},"y2":{"field":"hi"}}},
{"data":{"name":"summary"},"transform":[{"filter":"datum.panel == 'Col10a1 12'"}],"mark":{"type":"tick","color":"#000000","size":94,"thickness":5,"opacity":1},"encoding":{"x":{"field":"genotype","type":"nominal","axis":null},"y":{"field":"hi","type":"quantitative","axis":null}}},
{"data":{"name":"summary"},"transform":[{"filter":"datum.panel == 'Col10a1 12'"}],"mark":{"type":"tick","color":"#000000","size":94,"thickness":5,"opacity":1},"encoding":{"x":{"field":"genotype","type":"nominal","axis":null},"y":{"field":"lo","type":"quantitative","axis":null}}},
{"data":{"name":"points"},"transform":[{"filter":"datum.panel == 'Col10a1 12'"}],"mark":{"type":"point","filled":true,"color":"#000000","opacity":1},"encoding":{"x":{"field":"genotype","type":"nominal","axis":null},"xOffset":{"field":"slot","type":"ordinal","scale":{"domain":[-4,-3,-2,-1,0,1,2,3,4],"paddingInner":0,"paddingOuter":3.8}},"y":{"field":"value","type":"quantitative","axis":null},"shape":{"field":"genotype","type":"nominal","scale":{"domain":["WT","Panx3-/-"],"range":["circle","square"]},"legend":null},"size":{"field":"genotype","type":"nominal","scale":{"domain":["WT","Panx3-/-"],"range":[300,260]},"legend":null}}}
]},
{"width":545,"height":361,"resolve":{"axis":{"x":"independent","y":"independent"},"scale":{"xOffset":"independent"}},"layer":[
{"data":{"name":"summary"},"transform":[{"filter":"datum.panel == 'Col10a1 19'"}],"mark":{"type":"bar","fill":"white","strokeWidth":6.5},"encoding":{"x":{"field":"genotype","type":"nominal","scale":{"domain":["WT","Panx3-/-"],"paddingInner":0.34,"paddingOuter":0.18},"axis":{"title":null,"domain":true,"domainColor":"#000000","domainWidth":7,"ticks":true,"tickColor":"#000000","tickWidth":6,"tickSize":14,"labelFontSize":36,"labelColor":"#000000","labelPadding":2,"labelAngle":0,"zindex":1,"labelExpr":"datum.value == 'WT' ? 'WT' : 'Panx3⁻/⁻'","labelFontStyle":{"condition":{"test":"datum.value != 'WT'","value":"italic"},"value":"normal"}}},"y":{"field":"mean","type":"quantitative","scale":{"domain":[0,3],"nice":false},"axis":{"values":[0,1,2,3],"tickCount":10,"labelOverlap":false,"labelExpr":"'' + datum.value","title":null,"domain":true,"domainColor":"#000000","domainWidth":7,"ticks":true,"tickColor":"#000000","tickWidth":6,"tickSize":13,"labelFontSize":34,"labelColor":"#000000","labelPadding":-2,"labelOffset":4,"zindex":1}},"stroke":{"field":"genotype","type":"nominal","scale":{"domain":["WT","Panx3-/-"],"range":["#000000","#a3a3a6"]},"legend":null}}},
{"data":{"name":"summary"},"transform":[{"filter":"datum.panel == 'Col10a1 19'"}],"mark":{"type":"rule","color":"#000000","strokeWidth":5},"encoding":{"x":{"field":"genotype","type":"nominal","axis":null},"y":{"field":"lo","type":"quantitative","axis":null},"y2":{"field":"hi"}}},
{"data":{"name":"summary"},"transform":[{"filter":"datum.panel == 'Col10a1 19'"}],"mark":{"type":"tick","color":"#000000","size":94,"thickness":5,"opacity":1},"encoding":{"x":{"field":"genotype","type":"nominal","axis":null},"y":{"field":"hi","type":"quantitative","axis":null}}},
{"data":{"name":"summary"},"transform":[{"filter":"datum.panel == 'Col10a1 19'"}],"mark":{"type":"tick","color":"#000000","size":94,"thickness":5,"opacity":1},"encoding":{"x":{"field":"genotype","type":"nominal","axis":null},"y":{"field":"lo","type":"quantitative","axis":null}}},
{"data":{"name":"points"},"transform":[{"filter":"datum.panel == 'Col10a1 19'"}],"mark":{"type":"point","filled":true,"color":"#000000","opacity":1},"encoding":{"x":{"field":"genotype","type":"nominal","axis":null},"xOffset":{"field":"slot","type":"ordinal","scale":{"domain":[-4,-3,-2,-1,0,1,2,3,4],"paddingInner":0,"paddingOuter":3.8}},"y":{"field":"value","type":"quantitative","axis":null},"shape":{"field":"genotype","type":"nominal","scale":{"domain":["WT","Panx3-/-"],"range":["circle","square"]},"legend":null},"size":{"field":"genotype","type":"nominal","scale":{"domain":["WT","Panx3-/-"],"range":[300,260]},"legend":null}}}
]},
{"width":545,"height":361,"resolve":{"axis":{"x":"independent","y":"independent"},"scale":{"xOffset":"independent"}},"layer":[
{"data":{"name":"summary"},"transform":[{"filter":"datum.panel == 'Col10a1 24'"}],"mark":{"type":"bar","fill":"white","strokeWidth":6.5},"encoding":{"x":{"field":"genotype","type":"nominal","scale":{"domain":["WT","Panx3-/-"],"paddingInner":0.34,"paddingOuter":0.18},"axis":{"title":null,"domain":true,"domainColor":"#000000","domainWidth":7,"ticks":true,"tickColor":"#000000","tickWidth":6,"tickSize":14,"labelFontSize":36,"labelColor":"#000000","labelPadding":2,"labelAngle":0,"zindex":1,"labelExpr":"datum.value == 'WT' ? 'WT' : 'Panx3⁻/⁻'","labelFontStyle":{"condition":{"test":"datum.value != 'WT'","value":"italic"},"value":"normal"}}},"y":{"field":"mean","type":"quantitative","scale":{"domain":[0,2],"nice":false},"axis":{"values":[0,1,2],"tickCount":10,"labelOverlap":false,"labelExpr":"'' + datum.value","title":null,"domain":true,"domainColor":"#000000","domainWidth":7,"ticks":true,"tickColor":"#000000","tickWidth":6,"tickSize":13,"labelFontSize":34,"labelColor":"#000000","labelPadding":-2,"labelOffset":4,"zindex":1}},"stroke":{"field":"genotype","type":"nominal","scale":{"domain":["WT","Panx3-/-"],"range":["#000000","#a3a3a6"]},"legend":null}}},
{"data":{"name":"summary"},"transform":[{"filter":"datum.panel == 'Col10a1 24'"}],"mark":{"type":"rule","color":"#000000","strokeWidth":5},"encoding":{"x":{"field":"genotype","type":"nominal","axis":null},"y":{"field":"lo","type":"quantitative","axis":null},"y2":{"field":"hi"}}},
{"data":{"name":"summary"},"transform":[{"filter":"datum.panel == 'Col10a1 24'"}],"mark":{"type":"tick","color":"#000000","size":94,"thickness":5,"opacity":1},"encoding":{"x":{"field":"genotype","type":"nominal","axis":null},"y":{"field":"hi","type":"quantitative","axis":null}}},
{"data":{"name":"summary"},"transform":[{"filter":"datum.panel == 'Col10a1 24'"}],"mark":{"type":"tick","color":"#000000","size":94,"thickness":5,"opacity":1},"encoding":{"x":{"field":"genotype","type":"nominal","axis":null},"y":{"field":"lo","type":"quantitative","axis":null}}},
{"data":{"name":"points"},"transform":[{"filter":"datum.panel == 'Col10a1 24'"}],"mark":{"type":"point","filled":true,"color":"#000000","opacity":1},"encoding":{"x":{"field":"genotype","type":"nominal","axis":null},"xOffset":{"field":"slot","type":"ordinal","scale":{"domain":[-4,-3,-2,-1,0,1,2,3,4],"paddingInner":0,"paddingOuter":3.8}},"y":{"field":"value","type":"quantitative","axis":null},"shape":{"field":"genotype","type":"nominal","scale":{"domain":["WT","Panx3-/-"],"range":["circle","square"]},"legend":null},"size":{"field":"genotype","type":"nominal","scale":{"domain":["WT","Panx3-/-"],"range":[300,260]},"legend":null}}}
]}
],"spacing":97,"bounds":"flush","resolve":{"scale":{"x":"independent","y":"independent"}}}
],"spacing":82,"resolve":{"scale":{"x":"independent","y":"independent"}}}
]
}
